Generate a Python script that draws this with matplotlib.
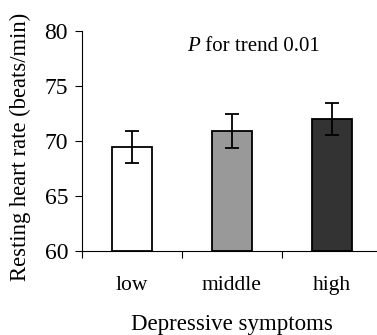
import matplotlib.pyplot as plt

categories = ['low', 'middle', 'high']
means = [69.45, 70.95, 72.0]
errors = [1.47, 1.55, 1.45]
colors = ['#ffffff', '#999999', '#333333']

plt.rcParams['font.family'] = ['Liberation Serif', 'DejaVu Serif']

fig = plt.figure(figsize=(3.77, 3.35), dpi=100)
ax = fig.add_axes([0.2175, 0.2507, 0.795, 0.6563])

x = list(range(len(categories)))
ax.bar(x, [m - 60 for m in means], bottom=60, width=0.4, color=colors,
       edgecolor='black', linewidth=1.3)
ax.errorbar(x, means, yerr=errors, fmt='none', ecolor='black',
            elinewidth=1.3, capsize=5, capthick=1.3)

ax.set_xlim(-0.5, 2.5)
ax.set_ylim(60, 80)
ax.set_yticks([60, 65, 70, 75, 80])
ax.set_xticks(x)
ax.set_xticklabels(categories)
ax.set_xticks([-0.5, 0.5, 1.5, 2.5], minor=True)
ax.tick_params(axis='x', which='major', length=0, pad=18, labelsize=15.5)
ax.tick_params(axis='x', which='minor', length=5, width=0.8)
ax.tick_params(axis='y', length=5, width=0.8, labelsize=17, pad=5)

for s in ['top', 'right']:
    ax.spines[s].set_visible(False)
for s in ['left', 'bottom']:
    ax.spines[s].set_linewidth(0.8)

ax.set_ylabel('Resting heart rate (beats/min)', fontsize=16.3, labelpad=10)
ax.yaxis.label.set_y(0.475)
ax.set_xlabel('Depressive symptoms', fontsize=16.5, labelpad=14)
ptext = ax.text(0.35, 0.93, 'P', transform=ax.transAxes, fontsize=15,
                ha='left', va='center', style='italic')
ax.annotate(' for trend 0.01', xy=(1, 0), xycoords=ptext, fontsize=15,
            ha='left', va='bottom')

fig.savefig('out.png', dpi=100)
